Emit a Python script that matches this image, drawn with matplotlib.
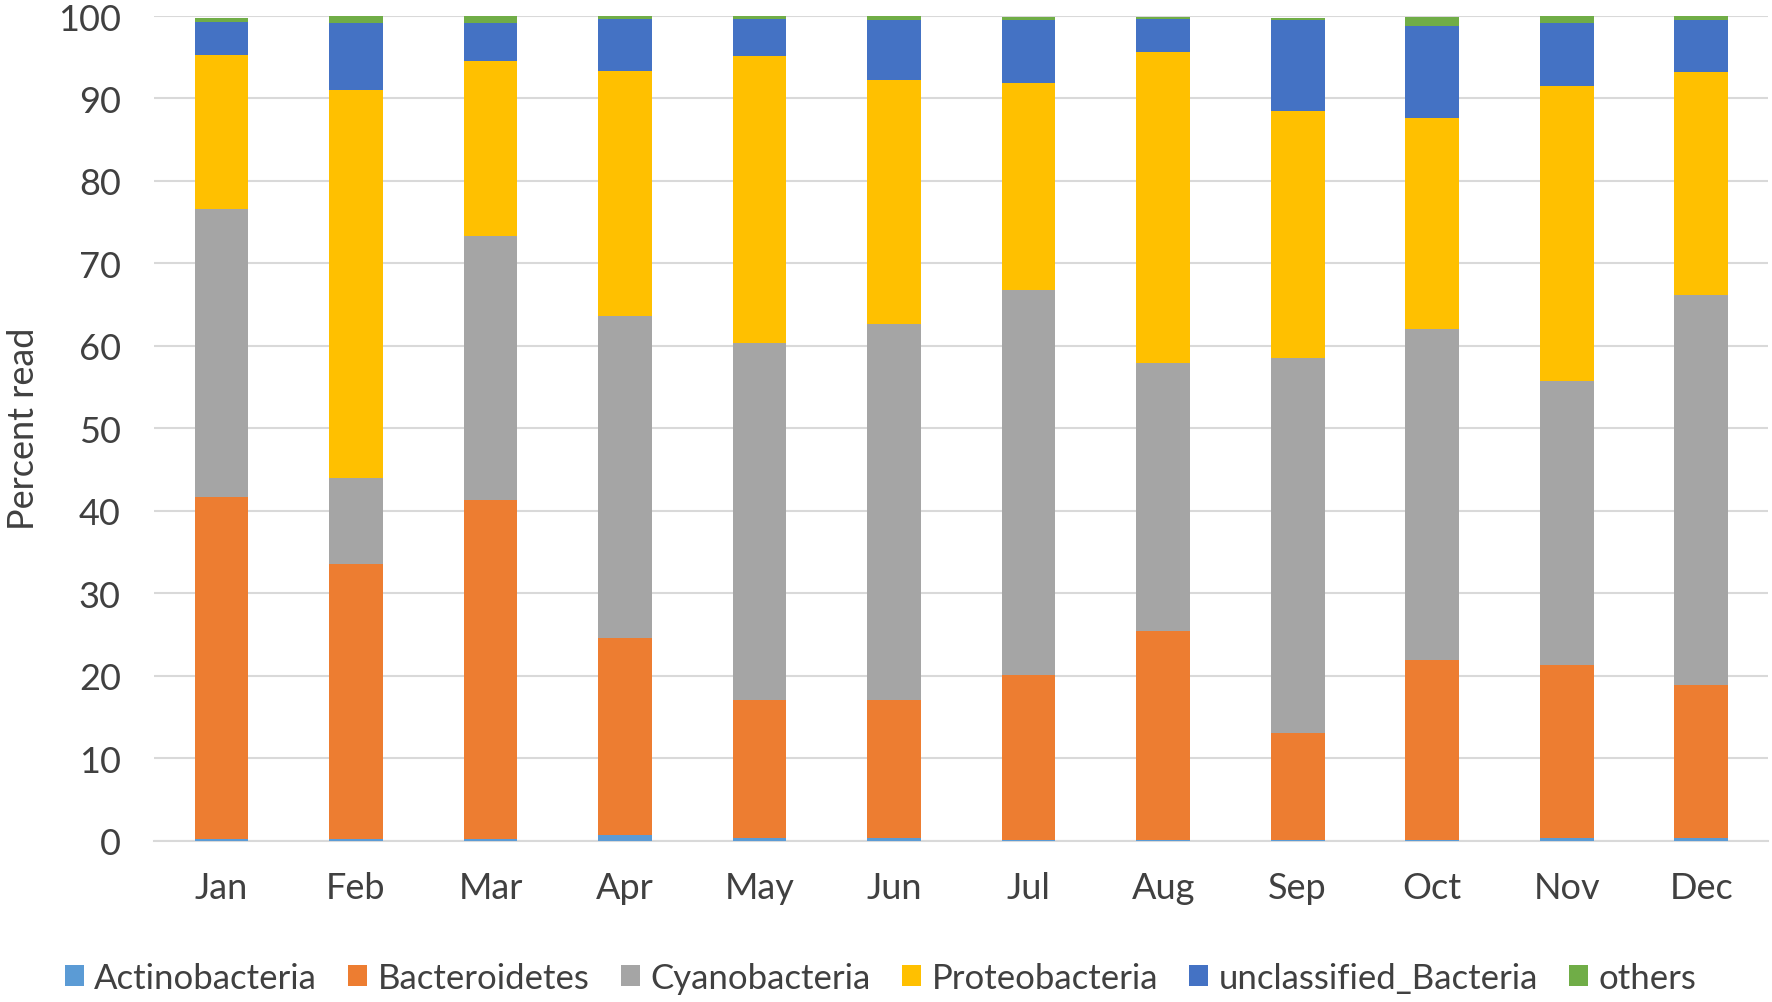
import matplotlib.pyplot as plt
import numpy as np

# datos (porcentaje de lecturas por mes)
months = ["Jan", "Feb", "Mar", "Apr", "May", "Jun", "Jul", "Aug", "Sep", "Oct", "Nov", "Dec"]
actinobacteria = [0.2, 0.2, 0.2, 0.7, 0.3, 0.3, 0.1, 0.1, 0.1, 0.1, 0.3, 0.3]
bacteroidetes = [41.5, 33.3, 41.1, 23.9, 16.8, 16.8, 20.0, 25.3, 12.9, 21.8, 21.0, 18.6]
cyanobacteria = [34.9, 10.5, 32.0, 39.0, 43.2, 45.6, 46.7, 32.5, 45.5, 40.2, 34.4, 47.3]
proteobacteria = [18.7, 47.0, 21.2, 29.7, 34.8, 29.6, 25.1, 37.7, 30.0, 25.5, 35.8, 27.0]
unclassified = [4.0, 8.2, 4.7, 6.4, 4.6, 7.2, 7.6, 4.1, 11.0, 11.2, 7.7, 6.3]
others = [0.5, 0.8, 0.8, 0.3, 0.3, 0.5, 0.4, 0.2, 0.3, 1.1, 0.8, 0.5]

series = [
    ("Actinobacteria", actinobacteria, "#5B9BD5"),
    ("Bacteroidetes", bacteroidetes, "#ED7D31"),
    ("Cyanobacteria", cyanobacteria, "#A5A5A5"),
    ("Proteobacteria", proteobacteria, "#FFC000"),
    ("unclassified_Bacteria", unclassified, "#4472C4"),
    ("others", others, "#70AD47"),
]

plt.rcParams['font.family'] = ['Lato', 'DejaVu Sans']
text_color = "#404040"

fig = plt.figure(figsize=(17.72, 10.03), dpi=100)
ax = fig.add_axes([0.087, 0.161, 0.911, 0.822])

x = np.arange(len(months))
bottom = np.zeros(len(months))
for name, vals, color in series:
    ax.bar(x, vals, width=0.40, bottom=bottom, color=color, label=name, zorder=3)
    bottom += np.array(vals)

ax.set_xlim(-0.5, len(months) - 0.5)
ax.set_ylim(0, 100)
ax.set_yticks(np.arange(0, 101, 10))
ax.set_xticks(x)
ax.set_xticklabels(months)

ax.grid(axis='y', color='#D9D9D9', linewidth=1.5, zorder=0)
for s in ["top", "right", "left"]:
    ax.spines[s].set_visible(False)
ax.spines["bottom"].set_color('#D9D9D9')
ax.spines["bottom"].set_linewidth(1.5)
ax.tick_params(axis='both', length=0, labelsize=26, colors=text_color)
ax.tick_params(axis='y', pad=24)
ax.tick_params(axis='x', pad=22)

# etiqueta del eje y pegada al borde izquierdo como en el original
ax.set_ylabel("Percent read", fontsize=26, color=text_color)
ax.yaxis.set_label_coords(-0.071, 0.5)

fig.legend(loc='center', bbox_to_anchor=(0.497, 0.024), ncol=6, frameon=False,
           fontsize=25, handlelength=0.55, handleheight=0.55, handletextpad=0.3,
           columnspacing=0.9, labelcolor=text_color)

fig.savefig("out.png", dpi=100)
